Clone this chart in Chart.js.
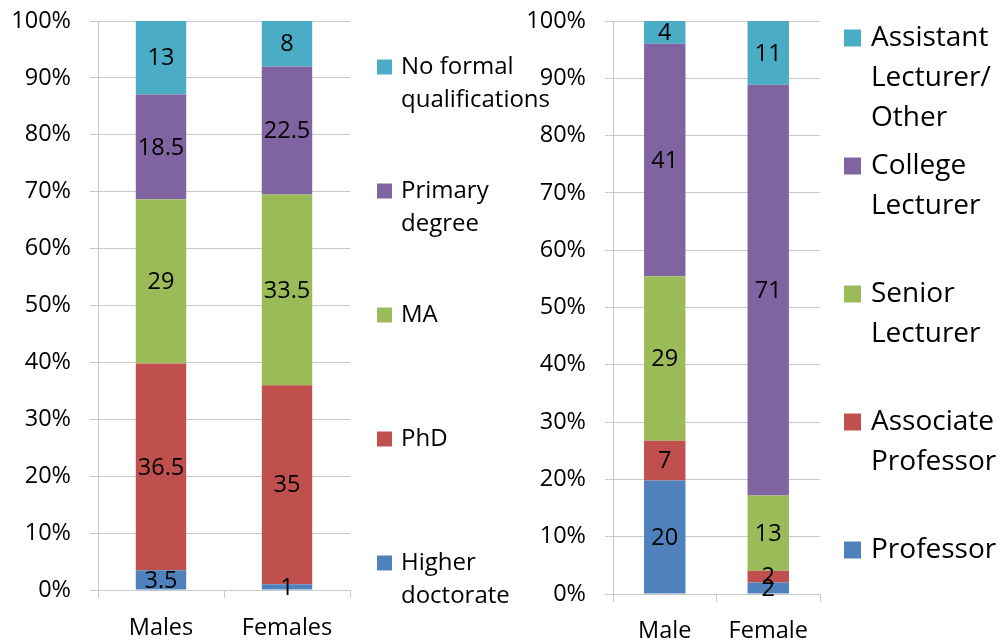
<!DOCTYPE html>
<html>
<head>
<meta charset="utf-8">
<script src="https://cdn.jsdelivr.net/npm/chart.js@4.4.0/dist/chart.umd.min.js"></script>
<style>
  html, body { margin: 0; padding: 0; background: #fff; width: 1003px; height: 642px; overflow: hidden; }
  #qual  { position: absolute; left: 0;     top: 0; }
  #grade { position: absolute; left: 480px; top: 0; }
</style>
</head>
<body>
<canvas id="qual" width="560" height="642"></canvas>
<canvas id="grade" width="523" height="642"></canvas>
<script>
// ---- Qualifications by sex (counts shown on segments) ----
const qualCategories   = ['Males', 'Females'];
const higherDoctorate  = [3.5, 1];
const phd              = [36.5, 35];
const ma               = [29, 33.5];
const primaryDegree    = [18.5, 22.5];
const noFormal         = [13, 8];

// ---- Academic grade by sex ----
const gradeCategories  = ['Male', 'Female'];
const professor        = [20, 2];
const associateProf    = [7, 2];
const seniorLecturer   = [29, 13];
const collegeLecturer  = [41, 71];
const assistantOther   = [4, 11];

const yTicks = [0, 10, 20, 30, 40, 50, 60, 70, 80, 90, 100];

const BLUE = '#4F81BD', RED = '#C0504D', GREEN = '#9BBB59', PURPLE = '#8064A2', AQUA = '#4BACC6';
const FONT = "'Open Sans', sans-serif";
const GRID = '#c9c9c9';

Chart.defaults.font.family = FONT;
Chart.defaults.color = '#000';

// Each column is drawn as a share of its own total (100% stacked bars)
function shares(seriesList) {
  const n = seriesList[0].length;
  const totals = Array.from({ length: n }, (_, i) => seriesList.reduce((s, arr) => s + arr[i], 0));
  return seriesList.map(arr => arr.map((v, i) => v / totals[i] * 100));
}

function makeDatasets(seriesList, labels, colors) {
  const pct = shares(seriesList);
  return seriesList.map((arr, k) => ({
    label: labels[k],
    data: pct[k],
    counts: arr,
    backgroundColor: colors[k],
    borderWidth: 0,
    barPercentage: 0.4,
    categoryPercentage: 1.0
  }));
}

// Count printed in the middle of every segment
const segmentValues = {
  id: 'segmentValues',
  afterDatasetsDraw(chart, args, o) {
    const ctx = chart.ctx;
    ctx.save();
    ctx.font = `${o.fontSize}px ${FONT}`;
    ctx.textAlign = 'center';
    ctx.textBaseline = 'middle';
    ctx.fillStyle = '#000';
    chart.data.datasets.forEach((ds, di) => {
      chart.getDatasetMeta(di).data.forEach((bar, i) => {
        ctx.fillText(String(ds.counts[i]), bar.x, (bar.y + bar.base) / 2 + o.dy);
      });
    });
    ctx.restore();
  }
};

// Legend column on the right, top series first, wrapped labels
const sideLegend = {
  id: 'sideLegend',
  afterDraw(chart, args, o) {
    const ctx = chart.ctx;
    const sets = chart.data.datasets;
    ctx.save();
    ctx.font = `${o.fontSize}px ${FONT}`;
    ctx.textAlign = 'left';
    ctx.textBaseline = 'middle';
    for (let k = 0; k < sets.length; k++) {
      const ds = sets[sets.length - 1 - k];
      const y0 = o.top + k * o.step;
      ctx.fillStyle = ds.backgroundColor;
      ctx.fillRect(o.boxX, y0 - o.box / 2 + o.boxDy, o.box, o.box);
      ctx.fillStyle = '#000';
      ds.label.split('\n').forEach((line, i) => ctx.fillText(line, o.textX, y0 + i * o.lineHeight));
    }
    ctx.restore();
  }
};

function buildChart(id, categories, datasets, geo) {
  return new Chart(document.getElementById(id), {
    type: 'bar',
    data: { labels: categories, datasets },
    plugins: [segmentValues, sideLegend],
    options: {
      responsive: false,
      animation: false,
      devicePixelRatio: 1,
      layout: { padding: { left: 0, top: geo.top, right: geo.right, bottom: 0 } },
      plugins: {
        legend: { display: false },
        tooltip: { enabled: false },
        segmentValues: { fontSize: 23.5, dy: 1 },
        sideLegend: geo.legend
      },
      scales: {
        x: {
          stacked: true,
          grid: { offset: true, drawOnChartArea: false, drawTicks: true, tickLength: 8, color: GRID, lineWidth: 1 },
          border: { display: true, color: GRID },
          ticks: { font: { size: 23.5 }, padding: geo.xPad, color: '#000' },
          afterFit(s) { s.height = geo.xHeight; s.paddingLeft = 0; s.paddingRight = 0; }
        },
        y: {
          stacked: true,
          min: 0, max: 100,
          afterBuildTicks(s) { s.ticks = yTicks.map(v => ({ value: v })); },
          grid: { color: GRID, tickLength: 8, lineWidth: 1 },
          border: { display: true, color: GRID },
          ticks: { font: { size: 23.5 }, padding: 19, color: '#000', callback: v => v + '%' },
          afterFit(s) { s.width = geo.yWidth; s.paddingTop = 0; s.paddingBottom = 0; }
        }
      }
    }
  });
}

buildChart('qual', qualCategories,
  makeDatasets(
    [higherDoctorate, phd, ma, primaryDegree, noFormal],
    ['Higher\ndoctorate', 'PhD', 'MA', 'Primary\ndegree', 'No formal\nqualifications'],
    [BLUE, RED, GREEN, PURPLE, AQUA]),
  { top: 21, right: 210, yWidth: 98, xHeight: 52, xPad: 16,
    legend: { boxX: 377, textX: 401, top: 67, step: 124, lineHeight: 33.5, box: 15, boxDy: 0, fontSize: 24 } });

buildChart('grade', gradeCategories,
  makeDatasets(
    [professor, associateProf, seniorLecturer, collegeLecturer, assistantOther],
    ['Professor', 'Associate\nProfessor', 'Senior\nLecturer', 'College\nLecturer', 'Assistant\nLecturer/\nOther'],
    [BLUE, RED, GREEN, PURPLE, AQUA]),
  { top: 21, right: 183, yWidth: 133, xHeight: 48, xPad: 15,
    legend: { boxX: 364, textX: 391, top: 38, step: 128, lineHeight: 40, box: 17, boxDy: 0, fontSize: 28 } });
</script>
</body>
</html>
